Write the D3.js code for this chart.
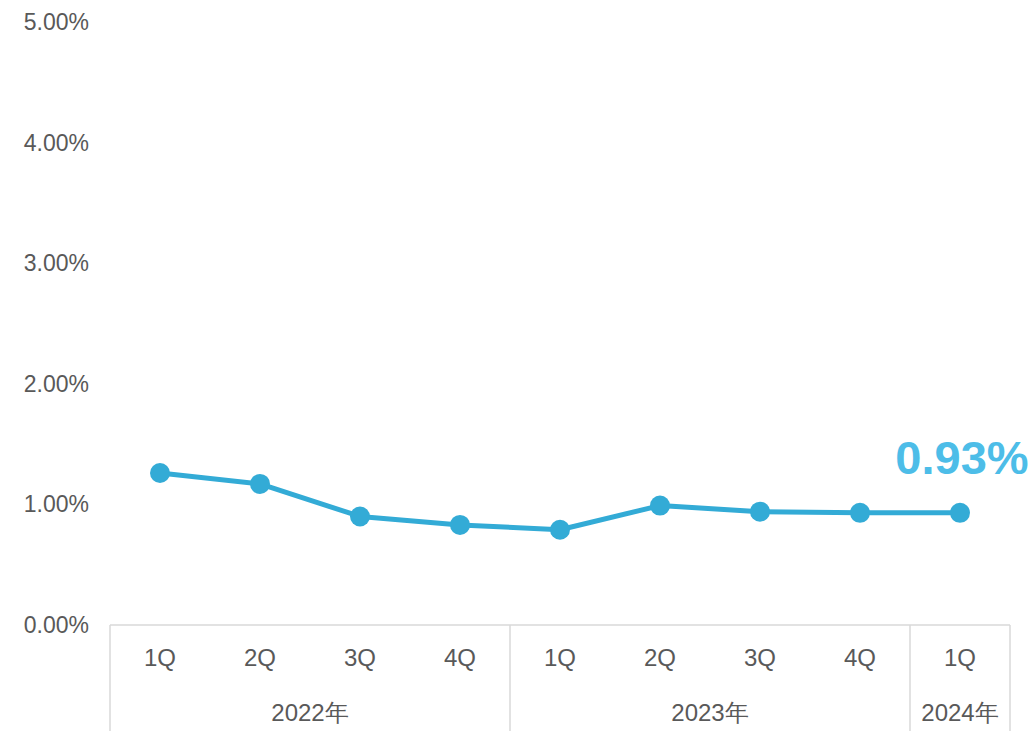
<!DOCTYPE html>
<html><head><meta charset="utf-8">
<script src="https://cdn.jsdelivr.net/npm/d3@7"></script>
<style>body{margin:0;background:#fff;} svg{display:block;}</style>
</head><body>
<svg id="c" width="1033" height="731"></svg>
<script>
const quarters = ["1Q","2Q","3Q","4Q","1Q","2Q","3Q","4Q","1Q"];
const years = [{label:"2022年", start:0, end:4},{label:"2023年", start:4, end:8},{label:"2024年", start:8, end:9}];
const values = [1.26, 1.17, 0.90, 0.83, 0.79, 0.99, 0.94, 0.93, 0.93];
const yTicks = [0,1,2,3,4,5];
const lastLabel = "0.93%";

const svg = d3.select("#c");
const font = "'Liberation Sans', Arial, sans-serif";
const fs = 23;
const fx = 24;
const x = d3.scaleBand().domain(d3.range(quarters.length)).range([110, 1010]).padding(0);
const y = d3.scaleLinear().domain([0,5]).range([625, 22]);

// y labels
svg.append("g").selectAll("text").data(yTicks).join("text")
  .attr("x", 89).attr("y", d=>y(d)).attr("dy","0.35em")
  .attr("text-anchor","end").attr("font-family",font).attr("font-size",fs)
  .attr("fill","#595959").text(d=>d.toFixed(2)+"%");

// x axis line
const gray = "#d9d9d9";
svg.append("line").attr("x1",x.range()[0]).attr("x2",x.range()[1]).attr("y1",y(0)).attr("y2",y(0))
  .attr("stroke",gray).attr("stroke-width",1.5);
// separators
const seps = [0, ...years.map(d=>d.end)];
svg.append("g").selectAll("line").data(seps).join("line")
  .attr("x1",d=>x(0)+d*x.bandwidth()).attr("x2",d=>x(0)+d*x.bandwidth())
  .attr("y1",y(0)).attr("y2",731).attr("stroke",gray).attr("stroke-width",1.5);

// quarter labels
svg.append("g").selectAll("text").data(quarters).join("text")
  .attr("x",(d,i)=>x(i)+x.bandwidth()/2).attr("y",658).attr("dy","0.35em")
  .attr("text-anchor","middle").attr("font-family",font).attr("font-size",fx)
  .attr("fill","#595959").text(d=>d);
// year labels
svg.append("g").selectAll("text").data(years).join("text")
  .attr("x",d=>x(0)+(d.start+d.end)/2*x.bandwidth()).attr("y",713).attr("dy","0.35em")
  .attr("text-anchor","middle").attr("font-family",font).attr("font-size",fx)
  .attr("fill","#595959").text(d=>d.label);

// line
const color = "#33abd6";
const line = d3.line().x((d,i)=>x(i)+x.bandwidth()/2).y(d=>y(d));
svg.append("path").datum(values).attr("d",line).attr("fill","none")
  .attr("stroke",color).attr("stroke-width",5).attr("stroke-linejoin","round");
svg.append("g").selectAll("circle").data(values).join("circle")
  .attr("cx",(d,i)=>x(i)+x.bandwidth()/2).attr("cy",d=>y(d)).attr("r",10).attr("fill",color);

// last label
const li = values.length-1;
svg.append("text").attr("x", x(li)+x.bandwidth()/2+2).attr("y", y(values[li])-39)
  .attr("text-anchor","middle").attr("font-family",font).attr("font-weight","bold")
  .attr("font-size",47).attr("fill","#4dbde8").text(lastLabel);
</script>
</body></html>
